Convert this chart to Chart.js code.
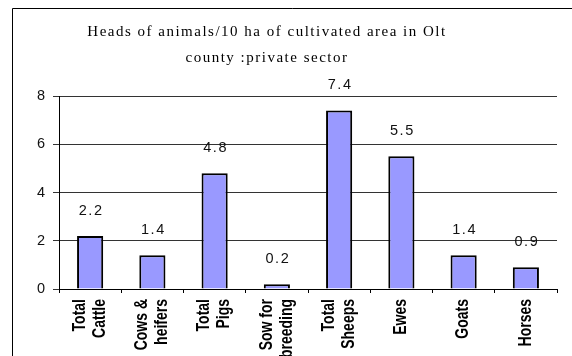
<!DOCTYPE html>
<html>
<head>
<meta charset="utf-8">
<script src="https://cdn.jsdelivr.net/npm/chart.js@4/dist/chart.umd.min.js"></script>
<style>
  html, body { margin: 0; padding: 0; background: #fff; overflow: hidden; }
  #c { display: block; }
</style>
</head>
<body>
<canvas id="c" width="572" height="356"></canvas>
<script>
const titleLines = ["Heads of animals/10 ha of cultivated area in Olt", "county :private sector"];
const categories = [
  ["Total", "Cattle"],
  ["Cows &", "heifers"],
  ["Total", "Pigs"],
  ["Sow for", "breeding"],
  ["Total", "Sheeps"],
  ["Ewes"],
  ["Goats"],
  ["Horses"]
];
const headsPer10ha = [2.2, 1.4, 4.8, 0.2, 7.4, 5.5, 1.4, 0.9];
const yTicks = [0, 2, 4, 6, 8];

const framePlugin = {
  id: 'frame',
  beforeDraw(chart) {
    const ctx = chart.ctx;
    ctx.save();
    ctx.fillStyle = '#fff';
    ctx.fillRect(0, 0, chart.width, chart.height);
    ctx.strokeStyle = '#000';
    ctx.lineWidth = 1;
    ctx.beginPath();
    ctx.moveTo(12.5, chart.height);
    ctx.lineTo(12.5, 8.5);
    ctx.lineTo(chart.width, 8.5);
    ctx.stroke();
    ctx.restore();
  }
};

const titlePlugin = {
  id: 'customTitle',
  afterDraw(chart) {
    const ctx = chart.ctx;
    ctx.save();
    ctx.fillStyle = '#000';
    ctx.font = '15px "Liberation Serif", "Times New Roman", serif';
    if ('letterSpacing' in ctx) ctx.letterSpacing = '1.5px';
    ctx.textAlign = 'center';
    ctx.textBaseline = 'middle';
    const cx = 267;
    titleLines.forEach((line, i) => ctx.fillText(line, cx, 32 + i * 26));
    ctx.restore();
  }
};

const xLabelPlugin = {
  id: 'xLabels',
  afterDraw(chart) {
    const ctx = chart.ctx;
    const xs = chart.scales.x;
    const topY = xs.top + 10;
    const spacing = 20;
    ctx.save();
    ctx.fillStyle = '#000';
    ctx.font = 'bold 14px "Liberation Sans", Arial, sans-serif';
    ctx.textAlign = 'right';
    ctx.textBaseline = 'middle';
    chart.data.labels.forEach((lab, i) => {
      const lines = Array.isArray(lab) ? lab : [lab];
      const px = xs.getPixelForTick(i);
      lines.forEach((line, j) => {
        const off = (j - (lines.length - 1) / 2) * spacing;
        ctx.save();
        ctx.translate(px + off, topY);
        ctx.rotate(-Math.PI / 2);
        ctx.scale(1, 1.25);
        ctx.fillText(line, 0, 0);
        ctx.restore();
      });
    });
    ctx.restore();
  }
};

const valueLabelPlugin = {
  id: 'valueLabels',
  afterDatasetsDraw(chart) {
    const ctx = chart.ctx;
    const meta = chart.getDatasetMeta(0);
    const data = chart.data.datasets[0].data;
    ctx.save();
    ctx.fillStyle = '#111';
    ctx.font = '14.5px "Liberation Sans", Arial, sans-serif';
    if ('letterSpacing' in ctx) ctx.letterSpacing = '1.5px';
    ctx.textAlign = 'center';
    ctx.textBaseline = 'middle';
    meta.data.forEach((bar, i) => {
      ctx.fillText(data[i].toFixed(1), bar.x + 1, bar.y - 25);
    });
    ctx.restore();
  }
};

new Chart(document.getElementById('c'), {
  type: 'bar',
  data: {
    labels: categories,
    datasets: [{
      data: headsPer10ha,
      backgroundColor: '#9999FF',
      borderColor: '#000',
      borderWidth: 2,
      barPercentage: 0.42,
      categoryPercentage: 1.0
    }]
  },
  options: {
    responsive: false,
    animation: false,
    devicePixelRatio: 1,
    layout: { padding: { top: 96, right: 15, left: 0, bottom: 0 } },
    plugins: {
      legend: { display: false },
      title: { display: false },
      tooltip: { enabled: false }
    },
    scales: {
      x: {
        offset: true,
        grid: {
          offset: true,
          drawOnChartArea: false,
          drawTicks: true,
          tickLength: 4,
          color: '#000'
        },
        border: { display: true, color: '#000', width: 1 },
        ticks: {
          autoSkip: false,
          maxRotation: 0,
          minRotation: 0,
          color: 'rgba(0,0,0,0)',
          font: { size: 1 }
        },
        afterFit(scale) { scale.height = 67; }
      },
      y: {
        min: 0,
        max: 8,
        afterBuildTicks(scale) { scale.ticks = yTicks.map(v => ({ value: v })); },
        grid: {
          color: '#333',
          lineWidth: 1,
          drawTicks: true,
          tickLength: 6
        },
        border: { display: true, color: '#000', width: 1 },
        ticks: {
          padding: 8,
          color: '#111',
          font: { family: '"Liberation Sans", Arial, sans-serif', size: 14.5 }
        },
        afterFit(scale) { scale.width = 59; }
      }
    }
  },
  plugins: [framePlugin, titlePlugin, xLabelPlugin, valueLabelPlugin]
});
</script>
</body>
</html>
